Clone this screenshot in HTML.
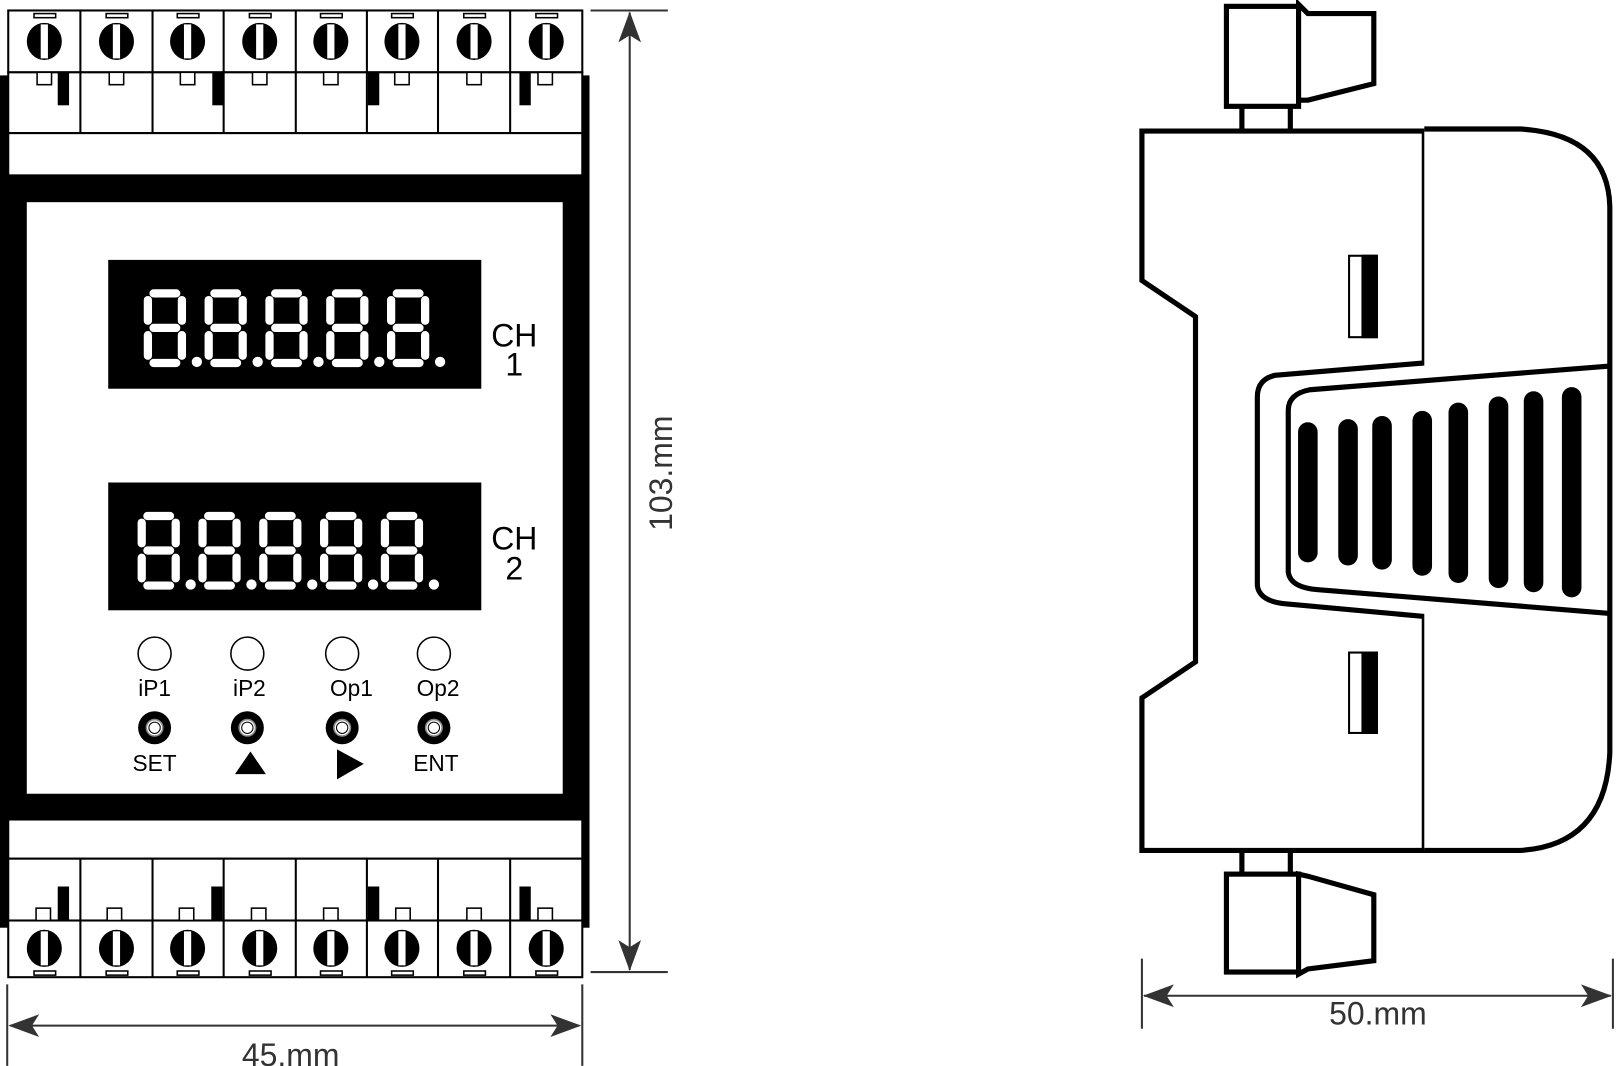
<!DOCTYPE html>
<html><head><meta charset="utf-8"><style>
html,body{margin:0;padding:0;background:#fff;}
svg{display:block;}
text{font-family:"Liberation Sans",sans-serif;}
</style></head><body>
<svg width="1616" height="1066" viewBox="0 0 1568 1034" xmlns="http://www.w3.org/2000/svg">
<defs>
<g id="screw">
<ellipse cx="0" cy="0" rx="17" ry="18" fill="#000"/>
<rect x="-4" y="-17" width="8" height="34" fill="#fff" stroke="#000" stroke-width="1"/>
</g>
<g id="digit" stroke="#fff" stroke-width="8" stroke-linecap="round" fill="none">
<line x1="10" y1="4.5" x2="32" y2="4.5"/>
<line x1="4.5" y1="11" x2="4.5" y2="31"/>
<line x1="37.5" y1="11" x2="37.5" y2="31"/>
<line x1="10" y1="38" x2="32" y2="38"/>
<line x1="4.5" y1="45" x2="4.5" y2="65"/>
<line x1="37.5" y1="45" x2="37.5" y2="65"/>
<line x1="10" y1="72" x2="32" y2="72"/>
<circle cx="52" cy="71" r="5" fill="#fff" stroke="none"/>
</g>
</defs>

<rect x="0" y="73" width="8" height="827" fill="#000"/>
<rect x="565" y="73" width="7" height="827" fill="#000"/>
<rect x="0" y="170" width="572" height="625" fill="#000"/>
<rect x="26" y="196" width="520" height="574" fill="#fff"/>

<g stroke="#000" stroke-width="2" fill="#fff">
<rect x="8" y="10" width="557" height="60"/>
<rect x="8" y="70" width="557" height="59"/>
<rect x="8" y="129" width="557" height="41"/>
<rect x="8" y="795" width="557" height="38"/>
<rect x="8" y="833" width="557" height="60"/>
<rect x="8" y="893" width="557" height="55"/>
</g>
<g stroke="#000" stroke-width="2">
<line x1="78" y1="10" x2="78" y2="129"/><line x1="148" y1="10" x2="148" y2="129"/>
<line x1="217" y1="10" x2="217" y2="129"/><line x1="287" y1="10" x2="287" y2="129"/>
<line x1="356" y1="10" x2="356" y2="129"/><line x1="425" y1="10" x2="425" y2="129"/>
<line x1="495" y1="10" x2="495" y2="129"/>
<line x1="78" y1="833" x2="78" y2="948"/><line x1="148" y1="833" x2="148" y2="948"/>
<line x1="217" y1="833" x2="217" y2="948"/><line x1="287" y1="833" x2="287" y2="948"/>
<line x1="356" y1="833" x2="356" y2="948"/><line x1="425" y1="833" x2="425" y2="948"/>
<line x1="495" y1="833" x2="495" y2="948"/>
</g>
<g>
<g fill="#fff" stroke="#000" stroke-width="1.5">
<rect x="33" y="13" width="21" height="4"/><rect x="103" y="13" width="21" height="4"/>
<rect x="172" y="13" width="21" height="4"/><rect x="242" y="13" width="21" height="4"/>
<rect x="311" y="13" width="21" height="4"/><rect x="380" y="13" width="21" height="4"/>
<rect x="450" y="13" width="21" height="4"/><rect x="520" y="13" width="21" height="4"/>
<rect x="36" y="70" width="14" height="12"/><rect x="106" y="70" width="14" height="12"/>
<rect x="175" y="70" width="14" height="12"/><rect x="245" y="70" width="14" height="12"/>
<rect x="314" y="70" width="14" height="12"/><rect x="383" y="70" width="14" height="12"/>
<rect x="453" y="70" width="14" height="12"/><rect x="522" y="70" width="14" height="12"/>
</g>
<use href="#screw" x="43" y="40"/><use href="#screw" x="113" y="40"/>
<use href="#screw" x="182" y="40"/><use href="#screw" x="252" y="40"/>
<use href="#screw" x="321" y="40"/><use href="#screw" x="390" y="40"/>
<use href="#screw" x="460" y="40"/><use href="#screw" x="530" y="40"/>
<rect x="56" y="70" width="11" height="32" fill="#000"/>
<rect x="206" y="70" width="11" height="32" fill="#000"/>
<rect x="357" y="70" width="11" height="32" fill="#000"/>
<rect x="504" y="70" width="11" height="32" fill="#000"/>
<g fill="#fff" stroke="#000" stroke-width="1.5">
<rect x="33" y="942" width="21" height="4"/><rect x="103" y="942" width="21" height="4"/>
<rect x="172" y="942" width="21" height="4"/><rect x="242" y="942" width="21" height="4"/>
<rect x="311" y="942" width="21" height="4"/><rect x="380" y="942" width="21" height="4"/>
<rect x="450" y="942" width="21" height="4"/><rect x="520" y="942" width="21" height="4"/>
<rect x="35" y="881" width="14" height="12"/><rect x="104" y="881" width="14" height="12"/>
<rect x="174" y="881" width="14" height="12"/><rect x="244" y="881" width="14" height="12"/>
<rect x="314" y="881" width="14" height="12"/><rect x="384" y="881" width="14" height="12"/>
<rect x="453" y="881" width="14" height="12"/><rect x="522" y="881" width="14" height="12"/>
</g>
<use href="#screw" x="43" y="920"/><use href="#screw" x="113" y="920"/>
<use href="#screw" x="182" y="920"/><use href="#screw" x="252" y="920"/>
<use href="#screw" x="321" y="920"/><use href="#screw" x="390" y="920"/>
<use href="#screw" x="460" y="920"/><use href="#screw" x="530" y="920"/>
<rect x="56" y="860" width="11" height="33" fill="#000"/>
<rect x="205" y="860" width="11" height="33" fill="#000"/>
<rect x="357" y="860" width="11" height="33" fill="#000"/>
<rect x="504" y="860" width="11" height="33" fill="#000"/>
</g>

<rect x="105" y="252" width="362" height="125" fill="#000"/>
<use href="#digit" x="139" y="280"/><use href="#digit" x="198" y="280"/>
<use href="#digit" x="257" y="280"/><use href="#digit" x="316" y="280"/>
<use href="#digit" x="375" y="280"/>
<rect x="105" y="468" width="362" height="124" fill="#000"/>
<use href="#digit" x="133" y="496"/><use href="#digit" x="192" y="496"/>
<use href="#digit" x="251" y="496"/><use href="#digit" x="310" y="496"/>
<use href="#digit" x="369" y="496"/>

<g font-size="31" text-anchor="middle" fill="#000">
<text x="499" y="336">CH</text><text x="499" y="364">1</text>
<text x="499" y="533">CH</text><text x="499" y="562">2</text>
</g>

<g fill="#fff" stroke="#000" stroke-width="1.5">
<circle cx="150" cy="634" r="16"/><circle cx="240" cy="634" r="16"/>
<circle cx="332" cy="634" r="16"/><circle cx="421" cy="634" r="16"/>
</g>
<g font-size="22" text-anchor="middle" fill="#000">
<text x="150" y="675">iP1</text><text x="242" y="675">iP2</text>
<text x="341" y="675">Op1</text><text x="425" y="675">Op2</text>
<text x="150" y="748">SET</text><text x="423" y="748">ENT</text>
</g>
<g>
<circle cx="150" cy="706" r="16" fill="#000"/><circle cx="150" cy="706" r="8" fill="#fff" stroke="#888" stroke-width="1.5"/><circle cx="150" cy="706" r="5.5" fill="#fff" stroke="#000" stroke-width="1"/>
<circle cx="240" cy="706" r="16" fill="#000"/><circle cx="240" cy="706" r="8" fill="#fff" stroke="#888" stroke-width="1.5"/><circle cx="240" cy="706" r="5.5" fill="#fff" stroke="#000" stroke-width="1"/>
<circle cx="332" cy="706" r="16" fill="#000"/><circle cx="332" cy="706" r="8" fill="#fff" stroke="#888" stroke-width="1.5"/><circle cx="332" cy="706" r="5.5" fill="#fff" stroke="#000" stroke-width="1"/>
<circle cx="421" cy="706" r="16" fill="#000"/><circle cx="421" cy="706" r="8" fill="#fff" stroke="#888" stroke-width="1.5"/><circle cx="421" cy="706" r="5.5" fill="#fff" stroke="#000" stroke-width="1"/>
<polygon points="243,729 258,751 228,751" fill="#000"/>
<polygon points="327,727 353,741 327,756" fill="#000"/>
</g>

<g stroke="#333" stroke-width="2" fill="#333">
<line x1="7" y1="955" x2="7" y2="1034"/>
<line x1="565" y1="955" x2="565" y2="1034"/>
<line x1="10" y1="995" x2="562" y2="995"/>
<polygon points="8,995 38,984 31,995 38,1006" stroke="none"/>
<polygon points="564,995 534,984 541,995 534,1006" stroke="none"/>
<line x1="573" y1="10" x2="648" y2="10"/>
<line x1="573" y1="943" x2="648" y2="943"/>
<line x1="611" y1="12" x2="611" y2="941"/>
<polygon points="611,11 600,41 611,34 622,41" stroke="none"/>
<polygon points="611,942 600,912 611,919 622,912" stroke="none"/>
<line x1="1108" y1="930" x2="1108" y2="998"/>
<line x1="1565" y1="930" x2="1565" y2="998"/>
<line x1="1110" y1="966" x2="1563" y2="966"/>
<polygon points="1109,966 1139,955 1132,966 1139,977" stroke="none"/>
<polygon points="1564,966 1534,955 1541,966 1534,977" stroke="none"/>
</g>
<g font-size="31" fill="#333" text-anchor="middle">
<text x="282" y="1034">45.mm</text>
<text x="1337" y="994">50.mm</text>
<text transform="translate(652,459) rotate(-90)">103.mm</text>
</g>

<g fill="#fff" stroke="#000" stroke-width="5" stroke-linejoin="miter">
<rect x="1205" y="100" width="47" height="28"/>
<rect x="1205" y="825" width="47" height="24"/>
<rect x="1190" y="6" width="70" height="97"/>
<polygon points="1260,4 1269,13 1333,13 1333,81 1269,97 1260,97"/>
<rect x="1190" y="848" width="70" height="95"/>
<polygon points="1260,848 1269,850 1333,868 1333,932 1269,940 1260,945"/>
<path d="M1108,127 L1382,127 L1382,352 L1237,364 Q1220,368 1220,385 L1220,568 Q1222,584 1250,586 L1382,598 L1382,825 L1108,825 L1108,677 L1160,642 L1160,307 L1108,272 Z"/>
<path d="M1382,125 L1475,125 Q1560,130 1562,200 L1562,730 Q1558,820 1475,825 L1382,825"/>
<path d="M1562,355 L1271,378 Q1250,382 1250,398 L1250,555 Q1252,570 1279,572 L1562,595" fill="none"/>
</g>
<g stroke="#000" stroke-width="2">
<rect x="1309" y="248" width="27" height="79" fill="#fff"/>
<rect x="1322" y="248" width="14" height="79" fill="#000"/>
<rect x="1309" y="633" width="27" height="78" fill="#fff"/>
<rect x="1322" y="633" width="14" height="78" fill="#000"/>
</g>
<g stroke="#000" stroke-width="19" stroke-linecap="round">
<line x1="1269" y1="419" x2="1269" y2="536"/>
<line x1="1308" y1="416" x2="1308" y2="539"/>
<line x1="1341" y1="413" x2="1341" y2="543"/>
<line x1="1380" y1="408" x2="1380" y2="549"/>
<line x1="1415" y1="400" x2="1415" y2="556"/>
<line x1="1454" y1="394" x2="1454" y2="561"/>
<line x1="1488" y1="389" x2="1488" y2="565"/>
<line x1="1525" y1="385" x2="1525" y2="570"/>
</g>
</svg>
</body></html>
